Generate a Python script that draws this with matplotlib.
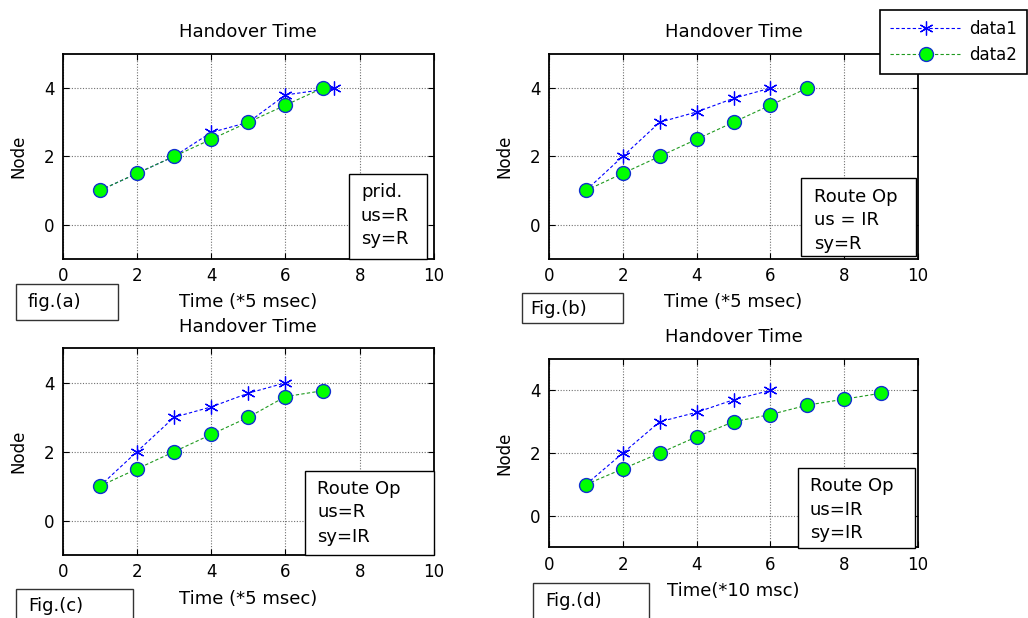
import matplotlib
matplotlib.use("Agg")
import matplotlib.pyplot as plt
from matplotlib.patches import Rectangle

# figure size in pixels
W, H = 1028, 618

# ---- data ----
x1_a = [1, 2, 3, 4, 5, 6, 7.3]
data1_a = [1, 1.5, 2, 2.7, 3, 3.8, 4]
x2_a = [1, 2, 3, 4, 5, 6, 7]
data2_a = [1, 1.5, 2, 2.5, 3, 3.5, 4]

x1_b = [1, 2, 3, 4, 5, 6]
data1_b = [1, 2, 3, 3.3, 3.7, 4]
x2_b = [1, 2, 3, 4, 5, 6, 7]
data2_b = [1, 1.5, 2, 2.5, 3, 3.5, 4]

x1_c = [1, 2, 3, 4, 5, 6]
data1_c = [1, 2, 3, 3.3, 3.7, 4]
x2_c = [1, 2, 3, 4, 5, 6, 7]
data2_c = [1, 1.5, 2, 2.5, 3, 3.6, 3.77]

x1_d = [1, 2, 3, 4, 5, 6]
data1_d = [1, 2, 3, 3.3, 3.7, 4]
x2_d = [1, 2, 3, 4, 5, 6, 7, 8, 9]
data2_d = [1, 1.5, 2, 2.52, 3, 3.23, 3.53, 3.72, 3.91]

xlabels = ["Time (*5 msec)", "Time (*5 msec)", "Time (*5 msec)", "Time(*10 msc)"]
box_lines = [["prid.", "us=R", "sy=R"],
             ["Route Op", "us = IR", "sy=R"],
             ["Route Op", "us=R", "sy=IR"],
             ["Route Op", "us=IR", "sy=IR"]]
fig_labels = ["fig.(a)", "Fig.(b)", "Fig.(c)", "Fig.(d)"]
legend_labels = ["data1", "data2"]

# ---- layout (pixels, top-left origin) ----
axes_px = [(62.7, 54, 434, 258.7),
           (549, 54, 918, 258.7),
           (62.7, 348.4, 434, 555),
           (549, 359, 918, 547.3)]
box_px = [(349, 174, 427, 259),
          (801, 178, 916, 256),
          (305, 470.7, 434, 555),
          (798, 467.7, 915.4, 548.3)]
box_text_x = [361, 813.7, 317.3, 809.9]
box_text_y = [[191.7, 216, 239.3],
              [196.7, 220, 244.3],
              [489, 512.3, 536.7],
              [485.7, 510, 533.3]]
figbox_px = [(16, 284, 118, 320),
             (521.7, 293.3, 622.7, 322.7),
             (15.7, 588.7, 133.3, 640),
             (532.5, 583.3, 648.6, 640)]
figtext_px = [(27.3, 301.7), (530.7, 309.3), (28.3, 606), (544.8, 601)]


def fx(x):
    return x / W


def fy(y):
    return 1 - y / H


def add_box(fig, rect, lw=1.0, ec="black"):
    x0, y0, x1, y1 = rect
    fig.patches.append(Rectangle((fx(x0), fy(y1)), (x1 - x0) / W, (y1 - y0) / H,
                                 transform=fig.transFigure, facecolor="white",
                                 edgecolor=ec, linewidth=lw, zorder=2))


series = [(x1_a, data1_a, x2_a, data2_a),
          (x1_b, data1_b, x2_b, data2_b),
          (x1_c, data1_c, x2_c, data2_c),
          (x1_d, data1_d, x2_d, data2_d)]

fig = plt.figure(figsize=(W / 100, H / 100), dpi=100)

handles = None
for i, (xa, ya, xb, yb) in enumerate(series):
    l, t, r, b = axes_px[i]
    ax = fig.add_axes([fx(l), fy(b), (r - l) / W, (b - t) / H])
    h1, = ax.plot(xa, ya, color="#0000ff", linestyle=(0, (3, 2)), linewidth=0.8,
                  marker=(6, 2, 0), markersize=10, markeredgewidth=0.9,
                  markeredgecolor="#0000ff")
    h2, = ax.plot(xb, yb, color="#1f9a1f", linestyle=(0, (3, 2)), linewidth=0.8,
                  marker="o", markersize=10, markerfacecolor="#00ff00",
                  markeredgecolor="#1030d0", markeredgewidth=1.0)
    if handles is None:
        handles = [h1, h2]
    ax.set_xlim(0, 10)
    ax.set_ylim(-1, 5)
    ax.set_xticks([0, 2, 4, 6, 8, 10])
    ax.set_yticks([0, 2, 4])
    ax.grid(True, linestyle=(0, (1, 1.5)), color="#707070", linewidth=0.8)
    ax.tick_params(direction="in", top=True, right=True, length=4,
                   labelsize=12, pad=6)
    for s in ax.spines.values():
        s.set_linewidth(1.3)
    ax.set_title("Handover Time", fontsize=13, pad=12)
    ax.set_xlabel(xlabels[i], fontsize=13, labelpad=6)
    ax.set_ylabel("Node", fontsize=12, labelpad=12)

    # annotation text box
    add_box(fig, box_px[i])
    for txt, yy in zip(box_lines[i], box_text_y[i]):
        fig.text(fx(box_text_x[i]), fy(yy), txt, fontsize=13,
                 ha="left", va="center", zorder=4)

    # figure tag box
    add_box(fig, figbox_px[i], lw=1.0, ec="#333333")
    fig.text(fx(figtext_px[i][0]), fy(figtext_px[i][1]), fig_labels[i],
             fontsize=13, ha="left", va="center", zorder=4)

leg = fig.legend(handles, legend_labels, loc="upper left",
                 bbox_to_anchor=(fx(880), fy(10)), borderaxespad=0,
                 fontsize=12, handlelength=4.3, handletextpad=0.45,
                 borderpad=0.6, labelspacing=0.45, fancybox=False,
                 framealpha=1, edgecolor="black")
leg.get_frame().set_linewidth(1.2)

fig.savefig("out.png", dpi=100)
